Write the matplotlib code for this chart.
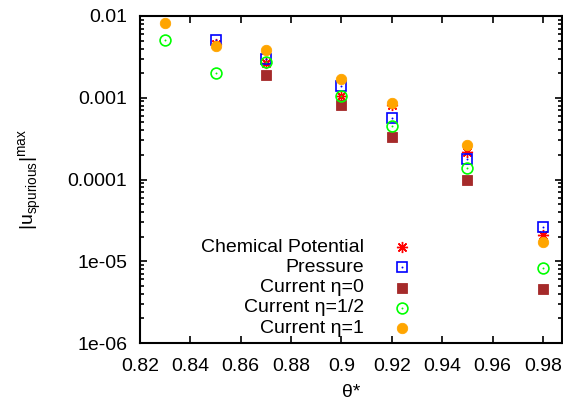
import numpy as np
import matplotlib
matplotlib.use("Agg")
import matplotlib.pyplot as plt
from matplotlib.ticker import LogLocator, FixedLocator, NullFormatter

plt.rcParams['font.family'] = ['Liberation Sans', 'DejaVu Sans']

chem_theta = [0.85, 0.87, 0.90, 0.92, 0.95, 0.98]
chem_u = [4.5e-3, 2.66e-3, 1.05e-3, 8.15e-4, 2.17e-4, 2.1e-5]

pres_theta = [0.85, 0.87, 0.90, 0.92, 0.95, 0.98]
pres_u = [5.08e-3, 2.98e-3, 1.39e-3, 5.65e-4, 1.78e-4, 2.62e-5]

cur0_theta = [0.87, 0.90, 0.92, 0.95, 0.98]
cur0_u = [1.9e-3, 8.15e-4, 3.31e-4, 9.86e-5, 4.58e-6]

curh_theta = [0.83, 0.85, 0.87, 0.90, 0.92, 0.95, 0.98]
curh_u = [5.08e-3, 2.02e-3, 2.74e-3, 1.05e-3, 4.51e-4, 1.38e-4, 8.26e-6]

cur1_theta = [0.83, 0.85, 0.87, 0.90, 0.92, 0.95, 0.98]
cur1_u = [8.2e-3, 4.3e-3, 3.84e-3, 1.69e-3, 8.69e-4, 2.64e-4, 1.72e-5]

labels = ["Chemical Potential", "Pressure", "Current \u03b7=0",
          "Current \u03b7=1/2", "Current \u03b7=1"]
xticks = [0.82, 0.84, 0.86, 0.88, 0.90, 0.92, 0.94, 0.96, 0.98]
xtick_labels = ["0.82", "0.84", "0.86", "0.88", "0.9", "0.92", "0.94", "0.96", "0.98"]
yticks = [1e-6, 1e-5, 1e-4, 1e-3, 1e-2]
ytick_labels = ["1e-06", "1e-05", "0.0001", "0.001", "0.01"]

styles = [
    dict(marker=(8, 2, 0), ms=8, mfc='none', mec='#ff0000', mew=1.0, dot=False),
    dict(marker='s', ms=7.5, mfc='none', mec='#0000ff', mew=1.2, dot=True),
    dict(marker='s', ms=7.5, mfc='#a52a2a', mec='#a52a2a', mew=0.6, dot=False),
    dict(marker='o', ms=7.8, mfc='none', mec='#00ff00', mew=1.2, dot=True),
    dict(marker='o', ms=7.5, mfc='#ffa500', mec='#ffa500', mew=0.6, dot=False),
]
series = [(chem_theta, chem_u), (pres_theta, pres_u), (cur0_theta, cur0_u),
          (curh_theta, curh_u), (cur1_theta, cur1_u)]

FS = 14

fig = plt.figure(figsize=(5.63, 4.01), dpi=100)
ax = fig.add_axes([140 / 563, 1 - 343 / 401, (562 - 140) / 563, (343 - 16) / 401])


def draw(target, xs, ys, st, **kw):
    target.plot(xs, ys, linestyle='none', marker=st['marker'], markersize=st['ms'],
                markerfacecolor=st['mfc'], markeredgecolor=st['mec'],
                markeredgewidth=st['mew'], **kw)
    if st['dot']:
        target.plot(xs, ys, linestyle='none', marker='o', markersize=1.4,
                    markerfacecolor=st['mec'], markeredgecolor='none', **kw)


for (xs, ys), st in zip(series, styles):
    draw(ax, xs, ys, st)

ax.set_yscale('log')
ax.set_xlim(0.82, 0.9876)
ax.set_ylim(1e-6, 1e-2)

ax.xaxis.set_major_locator(FixedLocator(xticks))
ax.set_xticklabels(xtick_labels)
ax.yaxis.set_major_locator(FixedLocator(yticks))
ax.set_yticklabels(ytick_labels)
ax.yaxis.set_minor_locator(LogLocator(base=10, subs=np.arange(2, 10), numticks=20))
ax.yaxis.set_minor_formatter(NullFormatter())

ax.tick_params(which='both', direction='in', top=True, right=True,
               labelsize=FS, width=1.2, colors='black')
ax.tick_params(which='major', length=5)
ax.tick_params(which='minor', length=3)
ax.tick_params(axis='x', which='major', pad=11)
ax.tick_params(axis='y', which='major', pad=9)
for s in ax.spines.values():
    s.set_linewidth(1.5)

ax.set_xlabel("\u03b8*", fontsize=FS, labelpad=6)
ax.set_ylabel("|u$_{\\mathregular{spurious}}$|$^{\\mathregular{max}}$",
              fontsize=FS, labelpad=17)

# key: right-aligned labels with the symbol to their right
for i, (lab, st) in enumerate(zip(labels, styles)):
    yk = (343 - 247 - i * 20.3) / 327
    ax.text((364 - 140) / 422, yk, lab, transform=ax.transAxes, ha='right',
            va='center', fontsize=FS)
    draw(ax, [(402 - 140) / 422], [yk], st, transform=ax.transAxes, clip_on=False)

fig.savefig("out.png", dpi=100)
